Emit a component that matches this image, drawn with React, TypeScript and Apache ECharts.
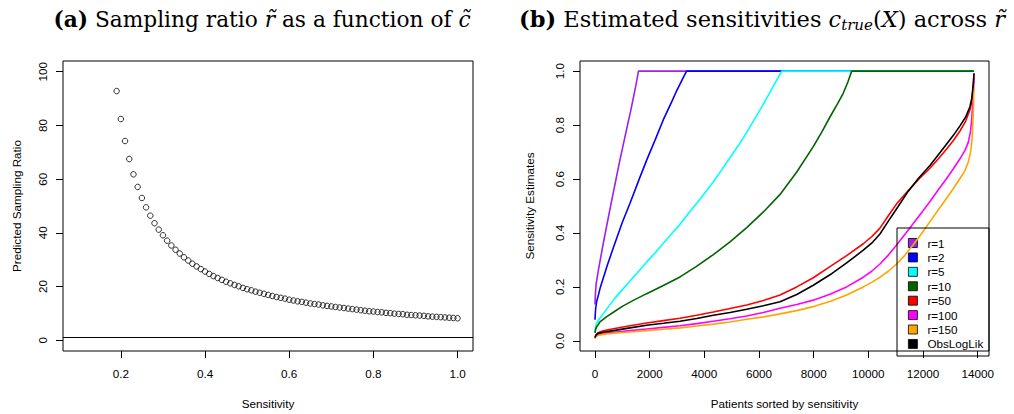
import React, { useEffect, useRef } from "react";
import * as echarts from "echarts";

// ---------- Panel (a) data ----------
const sensitivity = [
  0.19, 0.2, 0.21, 0.22, 0.23, 0.24, 0.25, 0.26, 0.27, 0.28,
  0.29, 0.3, 0.31, 0.32, 0.33, 0.34, 0.35, 0.36, 0.37, 0.38,
  0.39, 0.4, 0.41, 0.42, 0.43, 0.44, 0.45, 0.46, 0.47, 0.48,
  0.49, 0.5, 0.51, 0.52, 0.53, 0.54, 0.55, 0.56, 0.57, 0.58,
  0.59, 0.6, 0.61, 0.62, 0.63, 0.64, 0.65, 0.66, 0.67, 0.68,
  0.69, 0.7, 0.71, 0.72, 0.73, 0.74, 0.75, 0.76, 0.77, 0.78,
  0.79, 0.8, 0.81, 0.82, 0.83, 0.84, 0.85, 0.86, 0.87, 0.88,
  0.89, 0.9, 0.91, 0.92, 0.93, 0.94, 0.95, 0.96, 0.97, 0.98,
  0.99, 1.0,
];
const samplingRatio = [
  92.8, 82.4, 74.2, 67.5, 61.8, 57.1, 53.0, 49.5, 46.4, 43.6,
  41.2, 39.1, 37.1, 35.3, 33.7, 32.3, 30.9, 29.7, 28.5, 27.5,
  26.5, 25.6, 24.7, 23.9, 23.2, 22.5, 21.8, 21.2, 20.6, 20.1,
  19.5, 19.0, 18.6, 18.1, 17.7, 17.3, 16.9, 16.5, 16.1, 15.8,
  15.5, 15.1, 14.8, 14.5, 14.3, 14.0, 13.7, 13.5, 13.3, 13.0,
  12.8, 12.6, 12.4, 12.2, 12.0, 11.8, 11.6, 11.4, 11.2, 11.0,
  10.8, 10.7, 10.5, 10.4, 10.2, 10.1, 9.9, 9.8, 9.7, 9.5,
  9.4, 9.3, 9.2, 9.1, 8.9, 8.8, 8.7, 8.6, 8.5, 8.4,
  8.3, 8.2,
];
const referenceRatio = 1;
const xTicksA = [0.2, 0.4, 0.6, 0.8, 1.0];
const yTicksA = [0, 20, 40, 60, 80, 100];

// ---------- Panel (b) data ----------
const seriesNames = ["r=1", "r=2", "r=5", "r=10", "r=50", "r=100", "r=150", "ObsLogLik"];
const seriesColors = ["#A020F0", "#0000FF", "#00FFFF", "#006400", "#FF0000", "#FF00FF", "#FFA500", "#000000"];

const r1 = [[0, 0.135], [5, 0.15], [15, 0.175], [40, 0.21], [80, 0.235], [120, 0.26], [200, 0.305], [300, 0.36], [450, 0.438], [600, 0.515], [750, 0.59], [900, 0.665], [1050, 0.735], [1200, 0.805], [1300, 0.85], [1400, 0.9], [1500, 0.95], [1590, 1.0], [13860, 1.0]];
const r2 = [[0, 0.078], [10, 0.1], [25, 0.12], [60, 0.145], [200, 0.2], [450, 0.28], [670, 0.345], [1000, 0.44], [1280, 0.51], [1600, 0.595], [1890, 0.67], [2200, 0.745], [2500, 0.82], [2800, 0.885], [3000, 0.93], [3200, 0.97], [3350, 1.0], [13860, 1.0]];
const r5 = [[0, 0.03], [20, 0.05], [60, 0.066], [150, 0.08], [300, 0.1], [670, 0.151], [1000, 0.19], [1280, 0.222], [1600, 0.258], [1890, 0.292], [2200, 0.327], [2500, 0.362], [2800, 0.397], [3110, 0.432], [3400, 0.47], [3720, 0.51], [4030, 0.55], [4330, 0.59], [4640, 0.635], [4940, 0.68], [5250, 0.725], [5550, 0.773], [5850, 0.825], [6160, 0.878], [6500, 0.94], [6830, 1.0], [13860, 1.0]];
const r10 = [[0, 0.03], [20, 0.042], [50, 0.05], [180, 0.07], [430, 0.09], [700, 0.108], [1000, 0.128], [1400, 0.15], [1890, 0.175], [2500, 0.205], [3110, 0.237], [3700, 0.275], [4330, 0.32], [4950, 0.368], [5550, 0.42], [6150, 0.477], [6770, 0.543], [7380, 0.626], [7985, 0.72], [8300, 0.775], [8595, 0.83], [8850, 0.875], [9080, 0.918], [9250, 0.96], [9390, 1.0], [13860, 1.0]];
const r50 = [[0, 0.012], [30, 0.022], [100, 0.03], [300, 0.037], [670, 0.045], [1280, 0.056], [1890, 0.066], [2500, 0.075], [3110, 0.084], [3720, 0.095], [4330, 0.107], [4940, 0.12], [5550, 0.133], [6160, 0.15], [6770, 0.17], [7380, 0.2], [7985, 0.234], [8595, 0.275], [9205, 0.316], [9814, 0.36], [10120, 0.386], [10424, 0.418], [10730, 0.464], [11033, 0.508], [11460, 0.557], [11850, 0.6], [12253, 0.64], [12560, 0.675], [12863, 0.711], [13110, 0.743], [13350, 0.778], [13560, 0.815], [13716, 0.857], [13780, 0.885], [13813, 0.915], [13845, 0.95], [13862, 0.99]];
const r100 = [[0, 0.01], [30, 0.018], [100, 0.024], [300, 0.028], [670, 0.032], [1280, 0.038], [1890, 0.044], [2500, 0.05], [3110, 0.056], [3720, 0.064], [4330, 0.073], [4940, 0.082], [5550, 0.092], [6160, 0.105], [6770, 0.121], [7380, 0.135], [7985, 0.151], [8595, 0.173], [9205, 0.2], [9814, 0.236], [10120, 0.258], [10424, 0.285], [10730, 0.318], [11033, 0.355], [11340, 0.395], [11643, 0.435], [11950, 0.476], [12253, 0.517], [12560, 0.56], [12863, 0.602], [13110, 0.638], [13350, 0.675], [13530, 0.705], [13655, 0.736], [13730, 0.772], [13777, 0.815], [13815, 0.875], [13838, 0.925], [13862, 0.975]];
const r150 = [[0, 0.008], [30, 0.015], [100, 0.02], [300, 0.024], [670, 0.028], [1280, 0.033], [1890, 0.038], [2500, 0.043], [3110, 0.048], [3720, 0.055], [4330, 0.062], [4940, 0.07], [5550, 0.08], [6160, 0.089], [6770, 0.1], [7380, 0.112], [7985, 0.127], [8595, 0.146], [9205, 0.17], [9814, 0.2], [10120, 0.217], [10424, 0.236], [10730, 0.258], [11033, 0.285], [11340, 0.318], [11643, 0.356], [11950, 0.398], [12253, 0.442], [12560, 0.486], [12863, 0.529], [13110, 0.565], [13350, 0.602], [13530, 0.63], [13655, 0.663], [13740, 0.7], [13790, 0.745], [13825, 0.81], [13848, 0.88], [13862, 0.94]];
const obsLogLik = [[0, 0.012], [30, 0.02], [100, 0.027], [300, 0.032], [670, 0.038], [1280, 0.048], [1890, 0.058], [2500, 0.065], [3110, 0.073], [3720, 0.083], [4330, 0.095], [4940, 0.105], [5550, 0.117], [6160, 0.13], [6770, 0.145], [7380, 0.172], [7985, 0.206], [8595, 0.245], [9205, 0.289], [9814, 0.336], [10120, 0.362], [10424, 0.396], [10730, 0.444], [11033, 0.49], [11460, 0.555], [11850, 0.605], [12253, 0.65], [12560, 0.69], [12863, 0.73], [13110, 0.762], [13350, 0.797], [13560, 0.83], [13716, 0.868], [13780, 0.898], [13813, 0.928], [13845, 0.96], [13862, 0.992]];
const seriesValues = [r1, r2, r5, r10, r50, r100, r150, obsLogLik];

const xTicksB = [0, 2000, 4000, 6000, 8000, 10000, 12000, 14000];
const yTicksB = [0, 0.2, 0.4, 0.6, 0.8, 1.0];

const SANS = "Liberation Sans";
const SERIF = "DejaVu Serif";
const FS = 11.7;

function makeAxis(opts: any) {
  return {
    type: "value",
    gridIndex: opts.gridIndex,
    min: opts.min,
    max: opts.max,
    axisLine: { show: false, onZero: false },
    axisTick: {
      show: true,
      inside: false,
      length: 7,
      lineStyle: { color: "#000", width: 1 },
      customValues: opts.ticks,
    },
    axisLabel: {
      customValues: opts.ticks,
      formatter: opts.fmt,
      margin: opts.margin,
      rotate: opts.rotate || 0,
      color: "#000",
      fontSize: FS,
      fontFamily: SANS,
      showMinLabel: true,
      showMaxLabel: true,
    },
    splitLine: { show: false },
    name: opts.name,
    nameLocation: "middle",
    nameGap: opts.nameGap,
    nameTextStyle: { color: "#000", fontSize: FS, fontFamily: SANS },
  };
}

export default function App() {
  const ref = useRef<HTMLDivElement>(null);

  useEffect(() => {
    document.body.style.margin = "0";
    if (!ref.current) return;
    const chart = echarts.init(ref.current, undefined, { renderer: "svg" });

    const scatterData = sensitivity.map((s, i) => [s, samplingRatio[i]]);

    const lineSeries = seriesNames.map((name, i) => ({
      type: "line",
      name,
      xAxisIndex: 1,
      yAxisIndex: 1,
      data: seriesValues[i],
      showSymbol: false,
      symbol: "none",
      smooth: false,
      lineStyle: { color: seriesColors[i], width: 1.6 },
      itemStyle: { color: seriesColors[i] },
      z: 2 + i,
    }));

    const fmt1 = (v: number) => v.toFixed(1);
    const fmt0 = (v: number) => String(Math.round(v));

    const baseA = { fontFamily: SERIF, fontSize: 21.7, fill: "#000" };
    const baseB = { fontFamily: SERIF, fontSize: 22.5, fill: "#000" };

    chart.setOption({
      animation: false,
      backgroundColor: "#fff",
      grid: [
        { left: 63, top: 61, width: 410, height: 294, show: true, borderColor: "#000", borderWidth: 1, backgroundColor: "transparent", containLabel: false },
        { left: 580, top: 61, width: 409, height: 294, show: true, borderColor: "#000", borderWidth: 1, backgroundColor: "transparent", containLabel: false },
      ],
      xAxis: [
        makeAxis({ gridIndex: 0, min: 0.0626, max: 1.0367, ticks: xTicksA, fmt: fmt1, margin: 16, name: "Sensitivity", nameGap: 46 }),
        makeAxis({ gridIndex: 1, min: -549, max: 14413, ticks: xTicksB, fmt: fmt0, margin: 16, name: "Patients sorted by sensitivity", nameGap: 46 }),
      ],
      yAxis: [
        makeAxis({ gridIndex: 0, min: -4, max: 104, ticks: yTicksA, fmt: fmt0, margin: 15, rotate: 90, name: "Predicted Sampling Ratio", nameGap: 41 }),
        makeAxis({ gridIndex: 1, min: -0.0376, max: 1.0376, ticks: yTicksB, fmt: fmt1, margin: 15, rotate: 90, name: "Sensitivity Estimates", nameGap: 45 }),
      ],
      legend: {
        show: true,
        orient: "vertical",
        left: 908,
        top: 237,
        padding: 0,
        itemWidth: 9,
        itemHeight: 9,
        itemGap: 2.42,
        selectedMode: false,
        icon: "rect",
        itemStyle: { borderColor: "#000", borderWidth: 0.8 },
        textStyle: { color: "#000", fontSize: FS, fontFamily: SANS, padding: [0, 0, 0, 5] },
        data: seriesNames.map((n) => ({ name: n, icon: "rect" })),
      },
      series: [
        {
          type: "scatter",
          xAxisIndex: 0,
          yAxisIndex: 0,
          data: scatterData,
          symbol: "circle",
          symbolSize: 5.5,
          itemStyle: { color: "rgba(0,0,0,0)", borderColor: "#000", borderWidth: 1 },
          markLine: {
            silent: true,
            symbol: "none",
            label: { show: false },
            lineStyle: { color: "#000", width: 1, type: "solid" },
            data: [{ yAxis: referenceRatio }],
          },
          z: 2,
        },
        ...lineSeries,
      ],
      graphic: [
        {
          type: "rect",
          shape: { x: 897, y: 228, width: 92, height: 128 },
          style: { fill: "none", stroke: "#000", lineWidth: 1 },
          z: 100,
          silent: true,
        },
        {
          type: "text",
          x: 262,
          y: 19,
          style: {
            text: "{b|(a)} Sampling ratio {i|r\u0303} as a function of {i|c\u0303}",
            ...baseA,
            align: "center",
            verticalAlign: "middle",
            rich: {
              b: { ...baseA, fontWeight: "bold" },
              i: { ...baseA, fontStyle: "italic" },
            },
          },
          z: 100,
        },
        {
          type: "text",
          x: 762,
          y: 19,
          style: {
            text: "{b|(b)} Estimated sensitivities {i|c}{s|true}({i|X}) across {i|r\u0303}",
            ...baseB,
            align: "center",
            verticalAlign: "middle",
            rich: {
              b: { ...baseB, fontWeight: "bold" },
              i: { ...baseB, fontStyle: "italic" },
              s: { ...baseB, fontSize: 15, fontStyle: "italic", padding: [11, 0, 0, 0] },
            },
          },
          z: 100,
        },
      ],
    });

    return () => {
      chart.dispose();
    };
  }, []);

  return <div ref={ref} style={{ width: 1014, height: 414 }} />;
}
